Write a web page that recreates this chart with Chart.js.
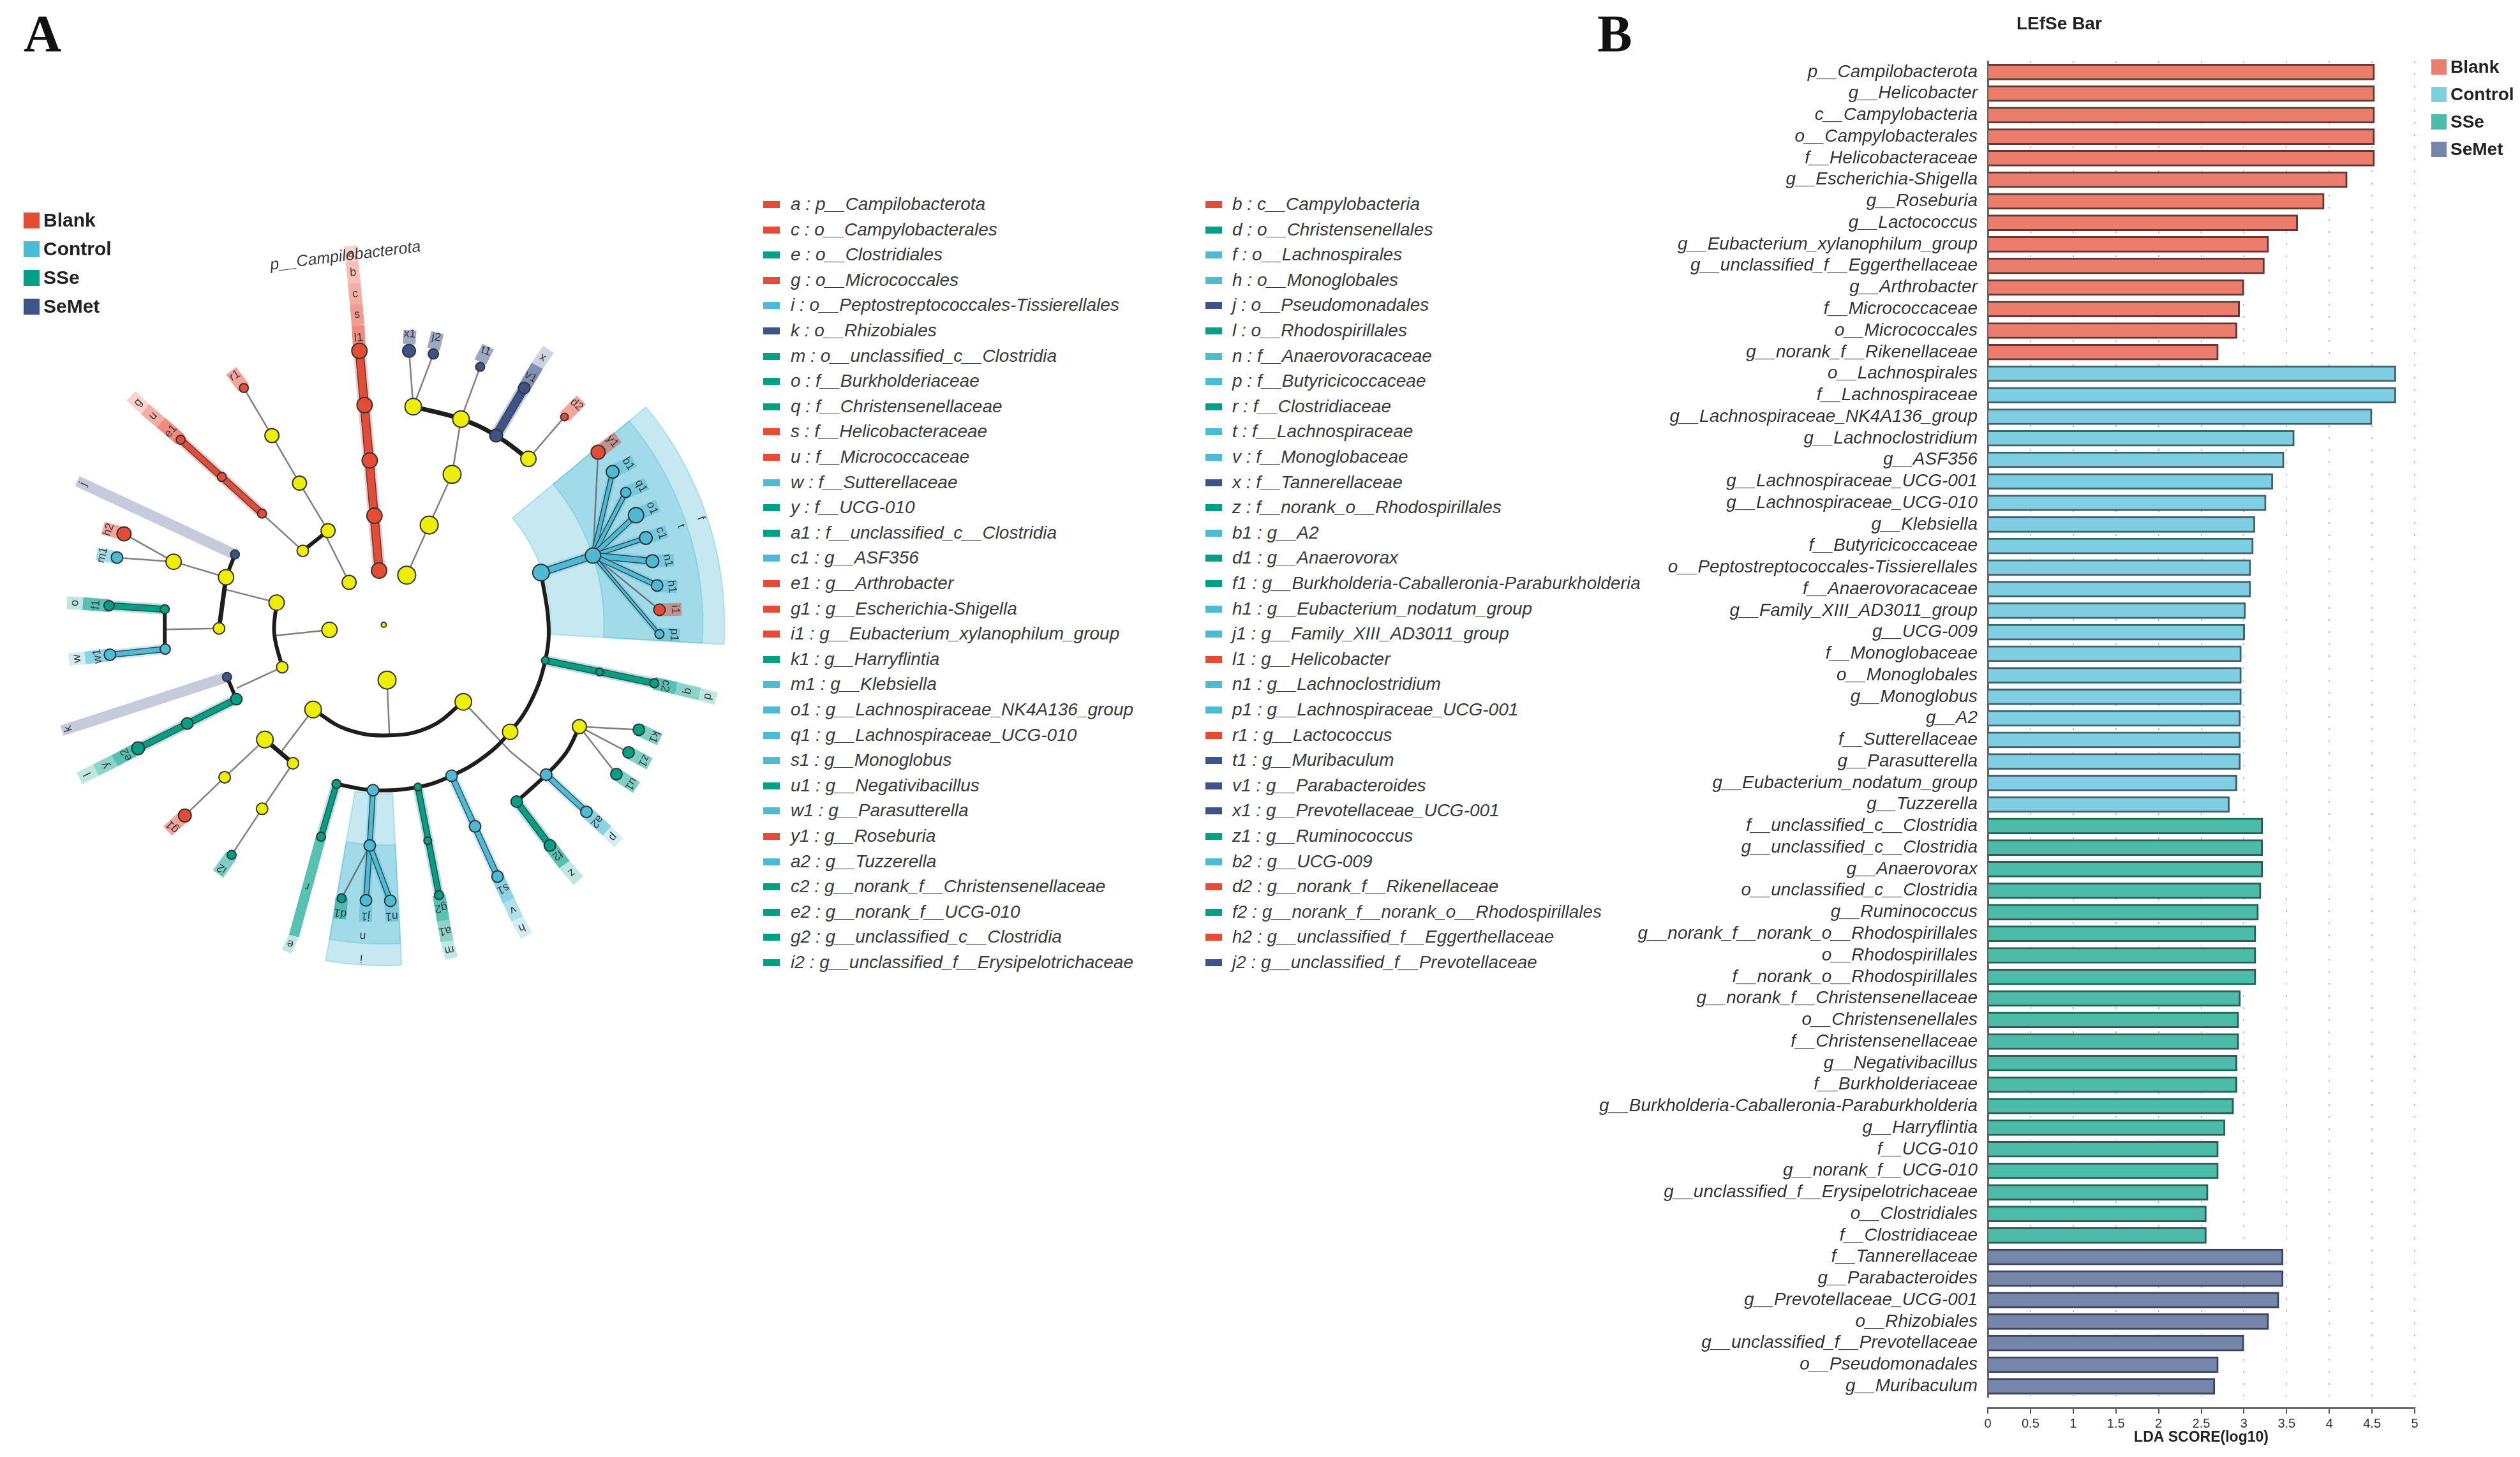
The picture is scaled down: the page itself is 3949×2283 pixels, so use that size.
<!DOCTYPE html>
<html>
<head>
<meta charset="utf-8">
<script src="https://cdn.jsdelivr.net/npm/chart.js@4"></script>
<style>
  html, body { margin: 0; padding: 0; background: #fff; }
  body { width: 3949px; height: 2283px; position: relative; overflow: hidden; font-family: "Liberation Sans", Arial, sans-serif; color: #333; }
  canvas { position: absolute; }
  .t { position: absolute; white-space: nowrap; line-height: 1; }
  .panel { font-family: "Liberation Serif", serif; font-weight: bold; font-size: 82px; color: #111; }
  .sw { position: absolute; }
  .key { font-style: italic; font-size: 28px; color: #3a3a3a; }
  .leg { font-weight: bold; color: #222; }
</style>
</head>
<body>
<canvas id="clado" width="1150" height="1270" style="left:0;top:280px;width:1150px;height:1270px"></canvas>
<canvas id="lefse" width="1469" height="2283" style="left:2480px;top:0;width:1469px;height:2283px"></canvas>
<script>
// ---- panel B values
const blankLabels = ['p__Campilobacterota','g__Helicobacter','c__Campylobacteria','o__Campylobacterales','f__Helicobacteraceae','g__Escherichia-Shigella','g__Roseburia','g__Lactococcus','g__Eubacterium_xylanophilum_group','g__unclassified_f__Eggerthellaceae','g__Arthrobacter','f__Micrococcaceae','o__Micrococcales','g__norank_f__Rikenellaceae'];
const blankValues = [4.53,4.53,4.53,4.53,4.53,4.21,3.94,3.63,3.29,3.24,3.0,2.95,2.92,2.7];
const controlLabels = ['o__Lachnospirales','f__Lachnospiraceae','g__Lachnospiraceae_NK4A136_group','g__Lachnoclostridium','g__ASF356','g__Lachnospiraceae_UCG-001','g__Lachnospiraceae_UCG-010','g__Klebsiella','f__Butyricicoccaceae','o__Peptostreptococcales-Tissierellales','f__Anaerovoracaceae','g__Family_XIII_AD3011_group','g__UCG-009','f__Monoglobaceae','o__Monoglobales','g__Monoglobus','g__A2','f__Sutterellaceae','g__Parasutterella','g__Eubacterium_nodatum_group','g__Tuzzerella'];
const controlValues = [4.78,4.78,4.5,3.59,3.47,3.34,3.26,3.13,3.11,3.08,3.08,3.02,3.01,2.97,2.97,2.97,2.96,2.96,2.96,2.92,2.83];
const sseLabels = ['f__unclassified_c__Clostridia','g__unclassified_c__Clostridia','g__Anaerovorax','o__unclassified_c__Clostridia','g__Ruminococcus','g__norank_f__norank_o__Rhodospirillales','o__Rhodospirillales','f__norank_o__Rhodospirillales','g__norank_f__Christensenellaceae','o__Christensenellales','f__Christensenellaceae','g__Negativibacillus','f__Burkholderiaceae','g__Burkholderia-Caballeronia-Paraburkholderia','g__Harryflintia','f__UCG-010','g__norank_f__UCG-010','g__unclassified_f__Erysipelotrichaceae','o__Clostridiales','f__Clostridiaceae'];
const sseValues = [3.22,3.22,3.22,3.2,3.17,3.14,3.14,3.14,2.96,2.94,2.94,2.92,2.92,2.88,2.78,2.7,2.7,2.58,2.56,2.56];
const semetLabels = ['f__Tannerellaceae','g__Parabacteroides','g__Prevotellaceae_UCG-001','o__Rhizobiales','g__unclassified_f__Prevotellaceae','o__Pseudomonadales','g__Muribaculum'];
const semetValues = [3.46,3.46,3.41,3.29,3.0,2.7,2.66];
const xTickLabels = ['0','0.5','1','1.5','2','2.5','3','3.5','4','4.5','5'];
const groupNames = ['Blank','Control','SSe','SeMet'];

// ---- key beside the cladogram
const keyCol1 = ['a : p__Campilobacterota','c : o__Campylobacterales','e : o__Clostridiales','g : o__Micrococcales','i : o__Peptostreptococcales-Tissierellales','k : o__Rhizobiales','m : o__unclassified_c__Clostridia','o : f__Burkholderiaceae','q : f__Christensenellaceae','s : f__Helicobacteraceae','u : f__Micrococcaceae','w : f__Sutterellaceae','y : f__UCG-010','a1 : f__unclassified_c__Clostridia','c1 : g__ASF356','e1 : g__Arthrobacter','g1 : g__Escherichia-Shigella','i1 : g__Eubacterium_xylanophilum_group','k1 : g__Harryflintia','m1 : g__Klebsiella','o1 : g__Lachnospiraceae_NK4A136_group','q1 : g__Lachnospiraceae_UCG-010','s1 : g__Monoglobus','u1 : g__Negativibacillus','w1 : g__Parasutterella','y1 : g__Roseburia','a2 : g__Tuzzerella','c2 : g__norank_f__Christensenellaceae','e2 : g__norank_f__UCG-010','g2 : g__unclassified_c__Clostridia','i2 : g__unclassified_f__Erysipelotrichaceae'];
const keyCol1Groups = [0,0,2,0,1,3,2,2,2,0,0,1,2,2,1,0,0,0,2,1,1,1,1,2,1,0,1,2,2,2,2];
const keyCol2 = ['b : c__Campylobacteria','d : o__Christensenellales','f : o__Lachnospirales','h : o__Monoglobales','j : o__Pseudomonadales','l : o__Rhodospirillales','n : f__Anaerovoracaceae','p : f__Butyricicoccaceae','r : f__Clostridiaceae','t : f__Lachnospiraceae','v : f__Monoglobaceae','x : f__Tannerellaceae','z : f__norank_o__Rhodospirillales','b1 : g__A2','d1 : g__Anaerovorax','f1 : g__Burkholderia-Caballeronia-Paraburkholderia','h1 : g__Eubacterium_nodatum_group','j1 : g__Family_XIII_AD3011_group','l1 : g__Helicobacter','n1 : g__Lachnoclostridium','p1 : g__Lachnospiraceae_UCG-001','r1 : g__Lactococcus','t1 : g__Muribaculum','v1 : g__Parabacteroides','x1 : g__Prevotellaceae_UCG-001','z1 : g__Ruminococcus','b2 : g__UCG-009','d2 : g__norank_f__Rikenellaceae','f2 : g__norank_f__norank_o__Rhodospirillales','h2 : g__unclassified_f__Eggerthellaceae','j2 : g__unclassified_f__Prevotellaceae'];
const keyCol2Groups = [0,2,1,1,3,2,1,1,2,1,1,3,2,1,2,2,1,1,0,1,1,0,3,3,3,2,1,0,2,0,3];

// ---- cladogram: x,y on a 0-1568 grid, last value is the node radius
const nodesYellow = [[820,863,4],[869,767,14],[917,670,14],[966,572,14],[985,465,13],[883,441,13],[1129,542,12],[746,781,11],[701,681,11],[640,589,11],[581,497,11],[647,720,9],[483,771,12],[371,741,12],[468,870,9],[591,820,12],[603,945,9],[704,873,12],[827,970,14],[669,1027,13],[990,1012,13],[566,1085,13],[626,1131,9],[480,1158,9],[560,1219,9],[1090,1070,12],[1238,1060,11]];
const nodesBlank = [[768,333,12],[779,438,12],[790,545,12],[800,652,12],[810,758,12],[1206,461,6],[521,405,7],[560,648,7],[474,577,7],[386,505,7],[265,687,11],[395,1232,10],[1278,529,11],[1409,834,9]];
const nodesControl = [[1156,762,13],[1267,729,12],[1309,567,10],[1337,607,8],[1359,651,12],[1380,695,10],[1394,740,10],[1404,787,9],[1409,881,7],[250,733,9],[353,910,8],[235,921,9],[797,1183,9],[790,1290,9],[782,1396,9],[834,1397,9],[965,1155,9],[1015,1253,9],[1063,1350,9],[1167,1153,9],[1253,1225,9]];
const nodesSSe = [[1165,932,6],[1281,954,6],[1398,976,7],[352,833,7],[233,826,8],[505,1007,9],[400,1054,9],[295,1102,10],[719,1171,7],[686,1273,7],[730,1392,7],[893,1177,6],[914,1281,6],[938,1386,7],[1104,1205,9],[1175,1290,9],[1365,1066,9],[1343,1110,9],[1317,1152,9],[495,1308,7]];
const nodesSeMet = [[874,333,10],[926,339,8],[1026,364,7],[1060,497,10],[1120,405,9],[502,727,7],[485,964,7]];

const thinEdges = [
  [[869,767],[917,670],[966,572],[985,465]],[[883,441],[874,333]],[[883,441],[926,339]],[[985,465],[1026,364]],[[1129,542],[1206,461]],
  [[746,781],[690,680]],[[701,681],[640,589],[581,497],[521,405]],[[647,720],[560,648]],
  [[483,771],[371,741],[265,687]],[[371,741],[250,733]],[[468,870],[352,872]],[[483,795],[591,820]],[[588,884],[704,873]],[[603,945],[507,985]],
  [[827,970],[832,1075]],[[669,1027],[598,1112]],[[566,1085],[480,1158],[395,1232]],[[626,1131],[560,1219],[495,1308]],
  [[990,1012],[1090,1108],[1167,1165]],[[1238,1060],[1365,1066]],[[1238,1060],[1343,1110]],[[1238,1060],[1317,1152]],
  [[1267,729],[1278,529]],[[1267,729],[1409,834]],[[790,1290],[730,1392]]
];
const blackArcs = [
  {w:7,pts:[[883,441],[985,465],[1060,497],[1129,542]]},
  {w:6,pts:[[647,720],[701,681]]},
  {w:6,pts:[[502,727],[483,771]]},
  {w:7,pts:[[483,771],[468,870]]},
  {w:6,pts:[[352,833],[352,910]]},
  {w:6,pts:[[591,820],[586,880],[603,945]]},
  {w:6,pts:[[485,964],[505,1007]]},
  {w:6,pts:[[669,1027],[740,1065],[832,1077],[920,1060],[990,1012]]},
  {w:7,pts:[[566,1085],[626,1131]]},
  {w:6,pts:[[1156,762],[1172,860],[1165,932],[1135,1010],[1090,1070],[1035,1118],[965,1155],[893,1177],[797,1183],[719,1171]]},
  {w:6,pts:[[1238,1060],[1210,1110],[1167,1153],[1104,1205]]}
];
const thickBlank = [{w:11,pts:[[810,758],[768,333]]},{w:8,pts:[[560,648],[386,505]]}];
const thickControl = [
  {w:9,pts:[[1156,762],[1267,729]]},{w:5,pts:[[1267,729],[1309,567]]},{w:5,pts:[[1267,729],[1337,607]]},{w:6,pts:[[1267,729],[1359,651]]},{w:5,pts:[[1267,729],[1380,695]]},{w:8,pts:[[1267,729],[1394,740]]},{w:6,pts:[[1267,729],[1404,787]]},{w:3,pts:[[1267,729],[1409,881]]},
  {w:7,pts:[[353,910],[235,921]]},{w:6,pts:[[797,1183],[790,1290]]},{w:6,pts:[[790,1290],[782,1396]]},{w:6,pts:[[790,1290],[834,1397]]},{w:7,pts:[[965,1155],[1063,1350]]},{w:7,pts:[[1167,1153],[1253,1225]]}
];
const thickSSe = [{w:8,pts:[[1165,932],[1398,976]]},{w:8,pts:[[352,833],[233,826]]},{w:8,pts:[[505,1007],[295,1102]]},{w:7,pts:[[719,1171],[686,1273]]},{w:7,pts:[[893,1177],[938,1386]]},{w:8,pts:[[1104,1205],[1175,1290]]}];
const thickSeMet = [{w:11,pts:[[1060,497],[1120,405]]}];

// shaded clade strips: names run from the node outwards, one piece per name
const strips = [
  {g:0,names:['l1','s','c','b','a'],pts:[[768,333],[765,283],[761,243],[757,203],[752,160],[748,130]]},
  {g:3,names:['x1'],pts:[[874,320],[876,293]]},
  {g:3,names:['j2'],pts:[[926,330],[935,298]]},
  {g:3,names:['t1'],pts:[[1026,355],[1043,325]]},
  {g:3,names:['v1','x'],pts:[[1120,405],[1148,362],[1172,330]]},
  {g:0,names:['d2'],pts:[[1206,461],[1242,428]]},
  {g:0,names:['r1'],pts:[[521,405],[494,372]]},
  {g:0,names:['e1','u','g'],pts:[[386,505],[344,472],[310,446],[280,420]]},
  {g:3,names:['j'],a:0.3,w:17,pts:[[502,727],[165,585]]},
  {g:0,names:['h2'],pts:[[265,687],[220,676]]},
  {g:1,names:['m1'],pts:[[250,733],[207,726]]},
  {g:2,names:['f1','o'],pts:[[233,826],[177,822],[143,820]]},
  {g:1,names:['w1','w'],pts:[[235,921],[182,927],[147,930]]},
  {g:3,names:['k'],a:0.3,w:17,pts:[[485,964],[132,1068]]},
  {g:2,names:['e2','y','l'],pts:[[295,1102],[245,1126],[205,1144],[170,1160]]},
  {g:0,names:['g1'],pts:[[395,1232],[358,1262]]},
  {g:2,names:['i2'],pts:[[495,1308],[466,1345]]},
  {g:2,names:['r','e'],w:16,pts:[[686,1273],[628,1465],[612,1495]]},
  {g:2,names:['d1'],pts:[[730,1392],[726,1432]]},
  {g:1,names:['j1'],pts:[[782,1396],[781,1438]]},
  {g:1,names:['n1'],pts:[[834,1397],[838,1438]]},
  {g:2,names:['g2','a1','m'],pts:[[938,1386],[947,1435],[955,1475],[965,1508]]},
  {g:1,names:['s1','v','h'],pts:[[1063,1350],[1087,1397],[1105,1432],[1125,1465]]},
  {g:2,names:['f2','z'],pts:[[1175,1290],[1206,1327],[1236,1358]]},
  {g:1,names:['a2','p'],pts:[[1253,1225],[1297,1262],[1322,1285]]},
  {g:2,names:['c2','q','d'],pts:[[1398,976],[1445,986],[1495,997],[1530,1006]]},
  {g:2,names:['k1'],pts:[[1365,1066],[1410,1085]]},
  {g:2,names:['z1'],pts:[[1343,1110],[1388,1132]]},
  {g:2,names:['u1'],pts:[[1317,1152],[1360,1178]]},
  {g:1,names:['h1'],pts:[[1404,787],[1447,790]]},
  {g:0,names:['i1'],pts:[[1409,834],[1456,833]]},
  {g:1,names:['p1'],pts:[[1409,881],[1452,883]]},
  {g:1,names:['n1'],pts:[[1394,740],[1440,738]]},
  {g:1,names:['c1'],pts:[[1380,695],[1425,682]]},
  {g:1,names:['o1'],pts:[[1359,651],[1406,632]]},
  {g:1,names:['q1'],pts:[[1337,607],[1382,590]]},
  {g:1,names:['b1'],pts:[[1309,567],[1355,546]]},
  {g:0,names:['y1'],pts:[[1278,529],[1320,500]]}
];
const wedgeLabels = [['t',1455,672],['f',1497,657],['n',775,1465],['i',772,1508]];

const groupColors = ['#E64B35','#4DBBD5','#00A087','#3C5488'];
const groupRgb = ['230,75,53','77,187,213','0,160,135','60,84,136'];
const barColors = ['#EC7D6D','#80CEE2','#4CBBA7','#7686AB'];
const barEdges = ['#5E3A34','#3F626C','#2A5F55','#3C4560'];

// cladogram grid to image pixels goes through these, so wedges can be set out in real pixels
const GX = 1568 / 1150, GY = 1568 / 1270, CX = 820, CY = 863;

function wedge(r0, r1, a0, a1) {
  const out = [], step = (a1 - a0) / 24;
  const pt = (r, a) => ({ x: CX + r * Math.cos(a * Math.PI / 180) * GX, y: CY + r * Math.sin(a * Math.PI / 180) * GY });
  for (let i = 0; i <= 24; i++) out.push(pt(r1, a0 + i * step));
  for (let i = 24; i >= 0; i--) out.push(pt(r0, a0 + i * step));
  out.push(out[0]);
  return out;
}
const toXY = pts => pts.map(p => ({ x: p[0], y: p[1] }));

const cladoSets = [];
function addLine(pts, color, w, tension, cap) {
  cladoSets.push({ data: toXY(pts), showLine: true, borderColor: color, borderWidth: w, pointRadius: 0, tension: tension || 0, borderCapStyle: cap || 'round', borderJoinStyle: 'round', clip: false });
}
function addWedge(r0, r1, a0, a1, alpha) {
  cladoSets.push({ data: wedge(r0, r1, a0, a1), showLine: true, fill: 'shape', backgroundColor: 'rgba(77,187,213,' + alpha + ')', borderColor: 'rgba(77,187,213,0.35)', borderWidth: 2, pointRadius: 0, clip: false });
}
addWedge(262, 534, -39.7, 3.3, 0.32);
addWedge(345, 500, -39.7, 3.3, 0.3);
addWedge(265, 534, 87, 99.8, 0.32);
addWedge(345, 500, 87, 99.8, 0.3);

const stripLabels = [];
strips.forEach(s => {
  const n = s.names.length;
  s.names.forEach((name, i) => {
    const a = s.pts[i], b = s.pts[i + 1];
    const alpha = s.a || (n === 1 ? 0.5 : 0.65 - 0.4 * i / (n - 1));
    addLine([a, b], 'rgba(' + groupRgb[s.g] + ',' + alpha + ')', s.w || 20, 0, 'butt');
    // the single leaf strips start under the node, so their letters sit near the far end
    const t = n === 1 && name.length > 1 ? 0.72 : (s.a ? 0.96 : 0.5);
    stripLabels.push([name, a[0] + (b[0] - a[0]) * t, a[1] + (b[1] - a[1]) * t]);
  });
});

thinEdges.forEach(e => addLine(e, 'rgba(95,95,95,0.8)', 2.5));
[thickBlank, thickControl, thickSSe, thickSeMet].forEach((list, g) => {
  list.forEach(e => {
    addLine(e.pts, 'rgba(' + groupRgb[g] + ',0.3)', e.w + 9, 0, 'butt');
    addLine(e.pts, 'rgba(35,45,50,0.85)', e.w + 3);
    addLine(e.pts, groupColors[g], e.w);
  });
});
blackArcs.forEach(e => addLine(e.pts, '#1d1d1d', e.w, 0.4));

[[nodesYellow, '#EEEE00'], [nodesBlank, groupColors[0]], [nodesControl, groupColors[1]], [nodesSSe, groupColors[2]], [nodesSeMet, groupColors[3]]].forEach(([list, col]) => {
  cladoSets.push({ data: list.map(n => ({ x: n[0], y: n[1] })), showLine: false, pointRadius: list.map(n => n[2]), pointBackgroundColor: col, pointBorderColor: '#333', pointBorderWidth: 2, pointHoverRadius: 0, clip: false });
});
// later sets paint on top
cladoSets.forEach((d, i) => { d.order = cladoSets.length - i; });

const cladoLetters = {
  id: 'cladoLetters',
  afterDatasetsDraw(chart) {
    const { ctx, scales: { x, y } } = chart;
    const cx = x.getPixelForValue(CX), cy = y.getPixelForValue(CY);
    ctx.save();
    ctx.fillStyle = '#3a3a3a';
    ctx.textAlign = 'center';
    ctx.textBaseline = 'middle';
    ctx.font = '18px "Liberation Sans"';
    stripLabels.concat(wedgeLabels).forEach(([txt, ux, uy]) => {
      const px = x.getPixelForValue(ux), py = y.getPixelForValue(uy);
      ctx.save();
      ctx.translate(px, py);
      ctx.rotate(Math.atan2(px - cx, cy - py));
      ctx.fillText(txt, 0, 0);
      ctx.restore();
    });
    ctx.font = 'italic 25px "Liberation Sans"';
    ctx.translate(x.getPixelForValue(738), y.getPixelForValue(150));
    ctx.rotate(-7 * Math.PI / 180);
    ctx.fillText('p__Campilobacterota', 0, 0);
    ctx.restore();
  }
};

new Chart(document.getElementById('clado').getContext('2d'), {
  type: 'scatter',
  data: { datasets: cladoSets },
  options: {
    responsive: false, animation: false, devicePixelRatio: 1,
    layout: { padding: 0, autoPadding: false },
    plugins: { legend: { display: false }, tooltip: { enabled: false } },
    scales: {
      x: { display: false, min: 0, max: 1568 },
      y: { display: false, min: 0, max: 1568, reverse: true }
    }
  },
  plugins: [cladoLetters]
});

// ---- bars
const categories = blankLabels.concat(controlLabels, sseLabels, semetLabels);
const barGroups = [blankValues, controlValues, sseValues, semetValues];
let before = 0;
const barSets = barGroups.map((vals, g) => {
  const data = new Array(categories.length).fill(null);
  vals.forEach((v, i) => { data[before + i] = v; });
  before += vals.length;
  return { label: groupNames[g], data, grouped: false, barThickness: 25, backgroundColor: barColors[g], borderColor: barEdges[g], borderWidth: 3 };
});

// the x axis sits a little below the bars in the original
const dropAxis = {
  id: 'dropAxis',
  afterLayout(chart) { chart.scales.x.top += 17; chart.scales.x.bottom += 17; }
};

new Chart(document.getElementById('lefse').getContext('2d'), {
  type: 'bar',
  data: { labels: categories, datasets: barSets },
  options: {
    indexAxis: 'y', responsive: false, animation: false, devicePixelRatio: 1,
    layout: { padding: { top: 96, right: 165, bottom: 34, left: 0 } },
    plugins: { legend: { display: false }, tooltip: { enabled: false } },
    scales: {
      x: {
        min: 0, max: 5,
        afterFit(s) { s.height = 60; },
        afterBuildTicks(s) { s.ticks = xTickLabels.map((_, i) => ({ value: i * 0.5 })); },
        ticks: { callback: (v, i) => xTickLabels[i], font: { family: 'Liberation Sans', size: 20 }, color: '#333', padding: 4, maxRotation: 0, autoSkip: false },
        grid: { color: 'rgba(170,170,170,0.7)', lineWidth: 2, tickColor: '#555', tickLength: 9, tickWidth: 2 },
        border: { color: '#666', width: 3, dash: [3, 16] },
        title: { display: true, text: 'LDA SCORE(log10)', font: { family: 'Liberation Sans', size: 23, weight: 'bold' }, color: '#222', padding: 0 }
      },
      y: {
        afterFit(s) { s.width = 635; },
        grid: { drawOnChartArea: false, drawTicks: false },
        border: { color: '#666', width: 3 },
        ticks: { autoSkip: false, padding: 16, font: { family: 'Liberation Sans', size: 28, style: 'italic' }, color: '#333' }
      }
    }
  },
  plugins: [dropAxis]
});

// ---- plain text around the charts
function put(cls, txt, x, y, extra) {
  const d = document.createElement('div');
  d.className = 't ' + cls;
  d.textContent = txt;
  d.style.left = x + 'px';
  d.style.top = y + 'px';
  Object.assign(d.style, extra || {});
  document.body.appendChild(d);
  return d;
}
function swatch(x, y, w, h, col) {
  const d = document.createElement('div');
  d.className = 'sw';
  d.style.cssText = 'left:' + x + 'px;top:' + y + 'px;width:' + w + 'px;height:' + h + 'px;background:' + col;
  document.body.appendChild(d);
}
put('panel', 'A', 37, 12);
put('panel', 'B', 2503, 12);
put('leg', 'LEfSe Bar', 3160, 23, { fontSize: '28px' });

[keyCol1, keyCol2].forEach((col, c) => {
  const groups = c ? keyCol2Groups : keyCol1Groups;
  const swX = c ? 1889 : 1196, txtX = c ? 1931 : 1239;
  col.forEach((txt, i) => {
    const y = 320 + i * 39.6;
    swatch(swX, y - 5, 26, 11, groupColors[groups[i]]);
    put('key', txt, txtX, y - 14);
  });
});

groupNames.forEach((name, i) => {
  swatch(37, 333 + i * 45, 25, 25, groupColors[i]);
  put('leg', name, 68, 330 + i * 45, { fontSize: '30px' });
  swatch(3810, 93 + i * 43, 24, 24, barColors[i]);
  put('leg', name, 3840, 91 + i * 43, { fontSize: '28px' });
});
</script>
</body>
</html>
